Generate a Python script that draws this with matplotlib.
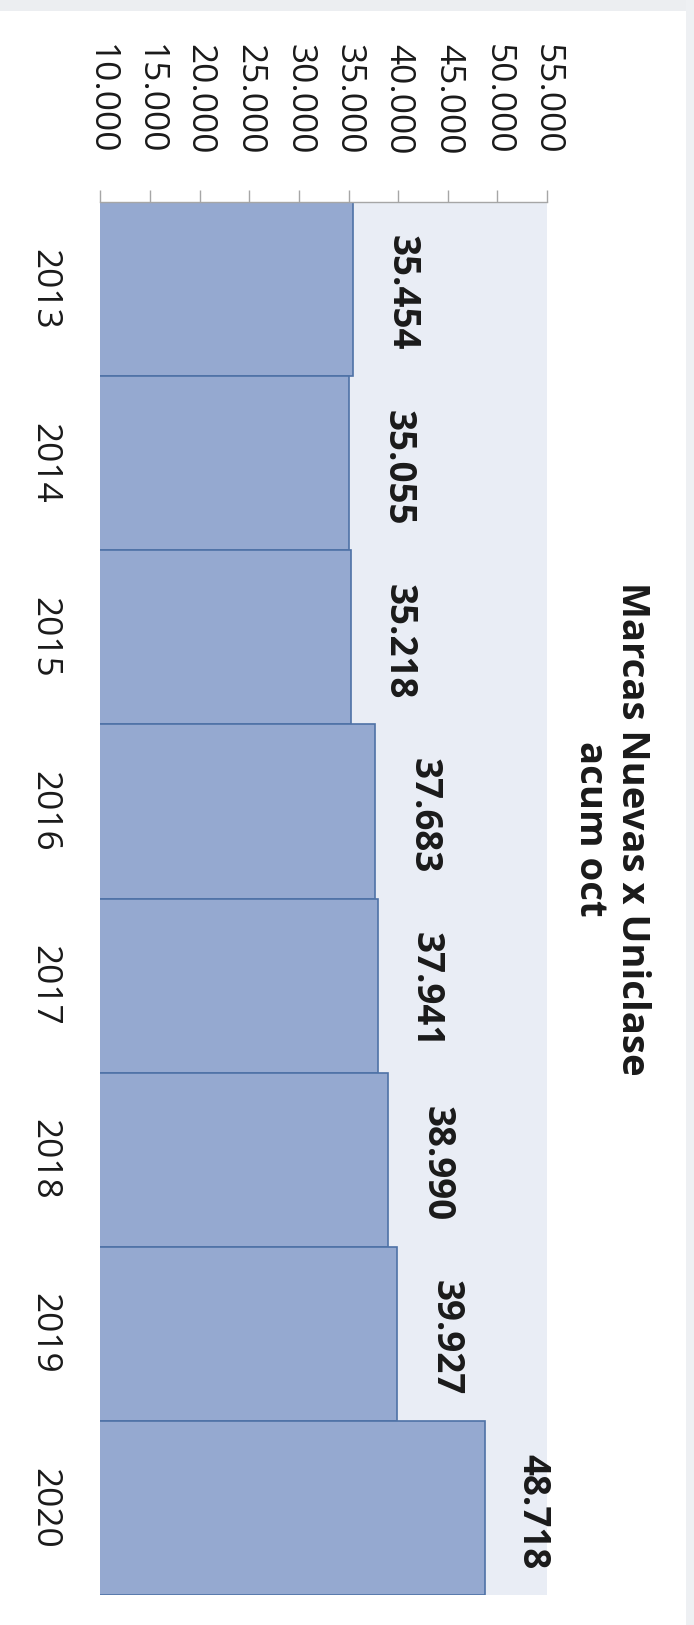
import matplotlib
matplotlib.use('Agg')
import matplotlib.pyplot as plt
from matplotlib.patches import Rectangle

plt.rcParams['font.family'] = ['Open Sans', 'DejaVu Sans']

# datos
anios = ['2013', '2014', '2015', '2016', '2017', '2018', '2019', '2020']
marcas = [35.454, 35.055, 35.218, 37.683, 37.941, 38.990, 39.927, 48.718]
ticks_valor = [10, 15, 20, 25, 30, 35, 40, 45, 50, 55]
etiquetas_valor = ['10.000', '15.000', '20.000', '25.000', '30.000',
                   '35.000', '40.000', '45.000', '50.000', '55.000']
etiquetas_barras = ['35.454', '35.055', '35.218', '37.683', '37.941',
                    '38.990', '39.927', '48.718']
titulo = 'Marcas Nuevas x Uniclase\nacum oct'

fig = plt.figure(figsize=(6.94, 16.25), dpi=100)
fig.patch.set_facecolor('white')

# franjas grises del fondo (captura de pantalla)
fig.add_artist(Rectangle((0, 1 - 11 / 1625), 1, 11 / 1625, transform=fig.transFigure,
                         facecolor='#ECEEF1', edgecolor='none'))
fig.add_artist(Rectangle((686 / 694, 0), 8 / 694, 1, transform=fig.transFigure,
                         facecolor='#EEF0F3', edgecolor='none'))

ax = fig.add_axes([100.5 / 694, 1 - 1595 / 1625, 446.5 / 694, 1393 / 1625])
ax.set_facecolor('#E9EDF5')

pos = list(range(len(anios)))
ax.barh(pos, marcas, left=0, height=1.0, color='#95A9D0', edgecolor='#4F72A6', linewidth=1.2)

ax.set_xlim(10, 55)
ax.set_ylim(len(anios) - 0.5, -0.5)

ax.xaxis.tick_top()
ax.set_xticks(ticks_valor)
ax.set_xticklabels(etiquetas_valor, rotation=-90, fontsize=25.5, color='#1a1a1a')
ax.tick_params(axis='x', direction='out', length=9, width=1, color='#A6A6A6', pad=25)

ax.set_yticks(pos)
ax.set_yticklabels(anios, rotation=-90, fontsize=25.5, color='#1a1a1a', va='center')
ax.tick_params(axis='y', length=0, pad=28)

for s in ['bottom', 'right', 'left']:
    ax.spines[s].set_visible(False)
ax.spines['top'].set_color('#A6A6A6')
ax.spines['top'].set_linewidth(1)

for i, v in enumerate(marcas):
    ax.annotate(etiquetas_barras[i], xy=(v, i), xytext=(21, -3), textcoords='offset points',
                ha='left', va='center', rotation=-90, fontsize=26.5, fontweight='bold',
                color='#1a1a1a')

fig.text(611 / 694, 1 - 829 / 1625, titulo, rotation=-90, ha='center', va='center',
         multialignment='center', fontsize=27.5, fontweight='bold', color='#1a1a1a',
         linespacing=1.15)

fig.savefig('out.png', dpi=100)
